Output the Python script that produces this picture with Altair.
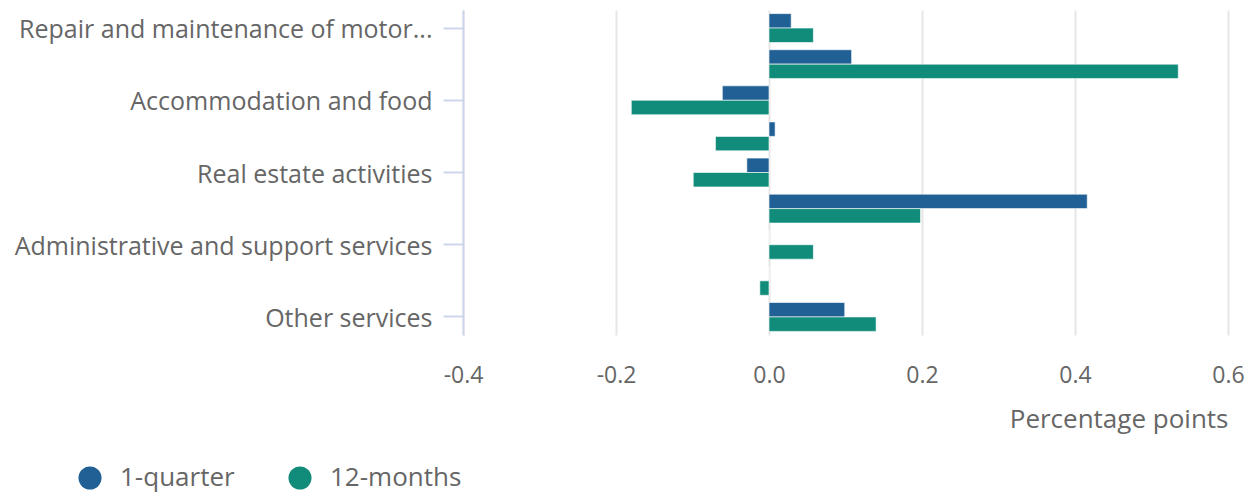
import altair as alt
import pandas as pd

categories = [
    "Repair and maintenance of motor vehicles",
    "Transport and storage",
    "Accommodation and food",
    "Information and communication",
    "Real estate activities",
    "Professional, scientific and technical",
    "Administrative and support services",
    "Arts and recreation",
    "Other services",
]
labelled = [categories[i] for i in (0, 2, 4, 6, 8)]
series_names = ["1-quarter", "12-months"]
quarter = [0.029, 0.108, -0.061, 0.008, -0.029, 0.416, 0.0, 0.0, 0.099]
months12 = [0.058, 0.535, -0.180, -0.070, -0.099, 0.198, 0.058, -0.012, 0.140]
x_ticks = [-0.4, -0.2, 0.0, 0.2, 0.4, 0.6]
colors = ["#206095", "#118c7b"]

rows = []
for c, q, m in zip(categories, quarter, months12):
    rows.append({"category": c, "series": series_names[0], "value": q})
    rows.append({"category": c, "series": series_names[1], "value": m})
df = pd.DataFrame(rows)

FONT = "Open Sans"
TXT = "#666666"

chart = alt.Chart(df).mark_bar(stroke="white", strokeWidth=0.6).encode(
    y=alt.Y(
        "category:N",
        sort=categories,
        scale=alt.Scale(paddingInner=0.2, paddingOuter=0.1),
        axis=alt.Axis(
            title=None,
            values=labelled,
            labelExpr="length(datum.label) > 36 ? slice(datum.label, 0, 31) + '...' : datum.label",
            labelFontSize=25,
            labelFont=FONT,
            labelColor=TXT,
            labelPadding=11,
            labelOffset=2,
            labelLimit=600,
            tickSize=20,
            tickColor="#ccd6eb",
            tickWidth=2,
            domainColor="#ccd6eb",
            domainWidth=2,
            grid=False,
        ),
    ),
    yOffset=alt.YOffset("series:N", sort=series_names),
    x=alt.X(
        "value:Q",
        scale=alt.Scale(domain=[-0.4, 0.6], nice=False, zero=False),
        axis=alt.Axis(
            title="Percentage points",
            values=x_ticks,
            format=".1f",
            labelExpr="replace(datum.label, '\u2212', '-')",
            labelFontSize=23,
            labelFont=FONT,
            labelColor=TXT,
            labelPadding=29,
            labelFlush=False,
            ticks=False,
            domain=False,
            grid=True,
            gridColor="#e6e6e6",
            gridWidth=2,
            titleAnchor="end",
            titleFontSize=26,
            titleFont=FONT,
            titleFontWeight="normal",
            titleColor=TXT,
            titlePadding=19,
        ),
    ),
    color=alt.Color(
        "series:N",
        sort=series_names,
        scale=alt.Scale(domain=series_names, range=colors),
        legend=alt.Legend(
            title=None,
            orient="none",
            legendX=-386,
            legendY=455,
            direction="horizontal",
            symbolType="circle",
            symbolSize=530,
            symbolStrokeWidth=0,
            labelFontSize=26,
            labelFont=FONT,
            labelColor=TXT,
            labelOffset=17,
            columnPadding=52,
            padding=0,
        ),
    ),
).properties(
    width=765,
    height=325,
    autosize=alt.AutoSizeParams(type="none"),
    padding={"left": 455, "top": 2, "right": 20, "bottom": 170},
).configure_view(stroke=None)

chart.save("out.html", embed_options={"renderer": "svg", "actions": False})
